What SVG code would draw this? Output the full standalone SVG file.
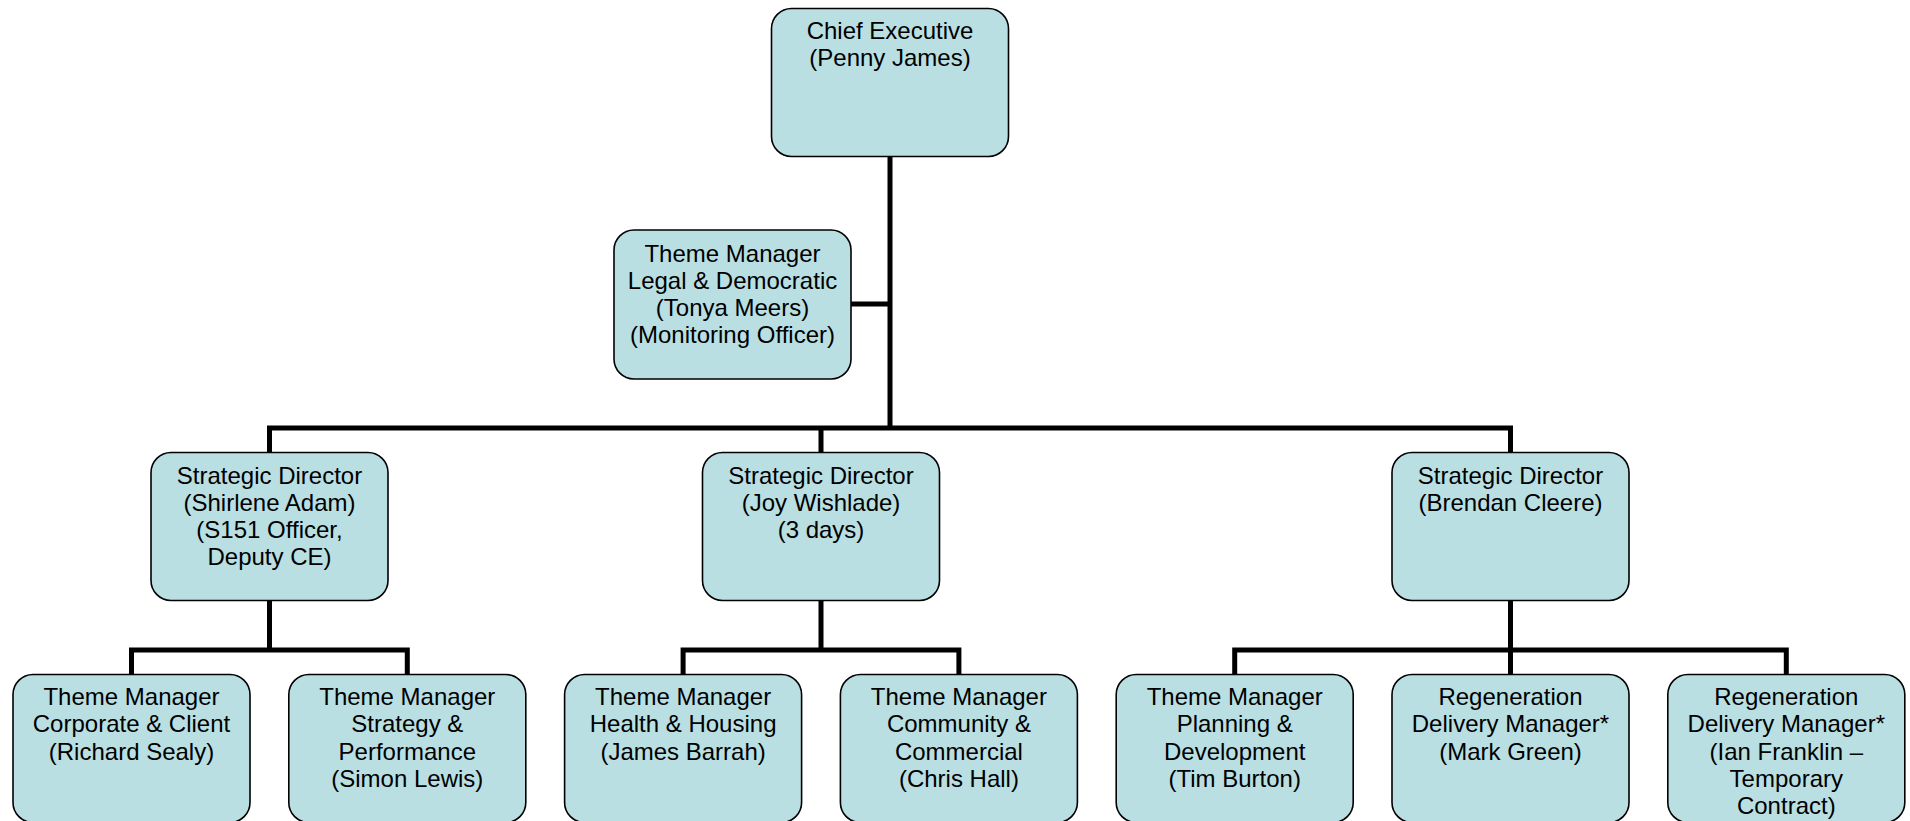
<svg xmlns="http://www.w3.org/2000/svg" width="1910" height="821" viewBox="0 0 1910 821">
<style>
.box{fill:#B9DFE3;stroke:#000;stroke-width:1.6}
.lbl{font-family:"Liberation Sans",Arial,sans-serif;font-size:24px;fill:#000;text-anchor:middle}
.conn{fill:none;stroke:#000;stroke-width:5;stroke-linejoin:miter}
</style>
<rect width="1910" height="821" fill="#fff"/>
<g id="connectors">
<path class="conn" d="M890,156 V428"/>
<path class="conn" d="M851,304 H890"/>
<path class="conn" d="M269.5,452 V428 H1510.5 V452"/>
<path class="conn" d="M821,428 V452"/>
<path class="conn" d="M269.5,600 V650"/>
<path class="conn" d="M131.5,674 V650 H407.3 V674"/>
<path class="conn" d="M821,600 V650"/>
<path class="conn" d="M683.1,674 V650 H958.9 V674"/>
<path class="conn" d="M1510.5,600 V674"/>
<path class="conn" d="M1234.7,674 V650 H1786.3 V674"/>
</g>
<g id="chief-executive">
<rect class="box" x="771.5" y="8.5" width="237" height="148" rx="20"/>
<text class="lbl" x="890" y="39"><tspan x="890">Chief Executive</tspan><tspan x="890" dy="27.3">(Penny James)</tspan></text>
</g>
<g id="legal-democratic">
<rect class="box" x="614" y="230" width="237" height="149" rx="20"/>
<text class="lbl" x="732.5" y="261.5"><tspan x="732.5">Theme Manager</tspan><tspan x="732.5" dy="27.3">Legal &amp; Democratic</tspan><tspan x="732.5" dy="27.3">(Tonya Meers)</tspan><tspan x="732.5" dy="27.3">(Monitoring Officer)</tspan></text>
</g>
<g id="sd-shirlene-adam">
<rect class="box" x="151" y="452.5" width="237" height="148" rx="20"/>
<text class="lbl" x="269.5" y="483.5"><tspan x="269.5">Strategic Director</tspan><tspan x="269.5" dy="27.3">(Shirlene Adam)</tspan><tspan x="269.5" dy="27.3">(S151 Officer,</tspan><tspan x="269.5" dy="27.3">Deputy CE)</tspan></text>
</g>
<g id="sd-joy-wishlade">
<rect class="box" x="702.5" y="452.5" width="237" height="148" rx="20"/>
<text class="lbl" x="821" y="483.5"><tspan x="821">Strategic Director</tspan><tspan x="821" dy="27.3">(Joy Wishlade)</tspan><tspan x="821" dy="27.3">(3 days)</tspan></text>
</g>
<g id="sd-brendan-cleere">
<rect class="box" x="1392" y="452.5" width="237" height="148" rx="20"/>
<text class="lbl" x="1510.5" y="483.5"><tspan x="1510.5">Strategic Director</tspan><tspan x="1510.5" dy="27.3">(Brendan Cleere)</tspan></text>
</g>
<g id="tm-corporate-client">
<rect class="box" x="13" y="674.5" width="237" height="148" rx="20"/>
<text class="lbl" x="131.5" y="705"><tspan x="131.5">Theme Manager</tspan><tspan x="131.5" dy="27.3">Corporate &amp; Client</tspan><tspan x="131.5" dy="27.3">(Richard Sealy)</tspan></text>
</g>
<g id="tm-strategy-performance">
<rect class="box" x="288.8" y="674.5" width="237" height="148" rx="20"/>
<text class="lbl" x="407.3" y="705"><tspan x="407.3">Theme Manager</tspan><tspan x="407.3" dy="27.3">Strategy &amp;</tspan><tspan x="407.3" dy="27.3">Performance</tspan><tspan x="407.3" dy="27.3">(Simon Lewis)</tspan></text>
</g>
<g id="tm-health-housing">
<rect class="box" x="564.6" y="674.5" width="237" height="148" rx="20"/>
<text class="lbl" x="683.1" y="705"><tspan x="683.1">Theme Manager</tspan><tspan x="683.1" dy="27.3">Health &amp; Housing</tspan><tspan x="683.1" dy="27.3">(James Barrah)</tspan></text>
</g>
<g id="tm-community-commercial">
<rect class="box" x="840.4" y="674.5" width="237" height="148" rx="20"/>
<text class="lbl" x="958.9" y="705"><tspan x="958.9">Theme Manager</tspan><tspan x="958.9" dy="27.3">Community &amp;</tspan><tspan x="958.9" dy="27.3">Commercial</tspan><tspan x="958.9" dy="27.3">(Chris Hall)</tspan></text>
</g>
<g id="tm-planning-development">
<rect class="box" x="1116.2" y="674.5" width="237" height="148" rx="20"/>
<text class="lbl" x="1234.7" y="705"><tspan x="1234.7">Theme Manager</tspan><tspan x="1234.7" dy="27.3">Planning &amp;</tspan><tspan x="1234.7" dy="27.3">Development</tspan><tspan x="1234.7" dy="27.3">(Tim Burton)</tspan></text>
</g>
<g id="rdm-mark-green">
<rect class="box" x="1392" y="674.5" width="237" height="148" rx="20"/>
<text class="lbl" x="1510.5" y="705"><tspan x="1510.5">Regeneration</tspan><tspan x="1510.5" dy="27.3">Delivery Manager*</tspan><tspan x="1510.5" dy="27.3">(Mark Green)</tspan></text>
</g>
<g id="rdm-ian-franklin">
<rect class="box" x="1667.8" y="674.5" width="237" height="148" rx="20"/>
<text class="lbl" x="1786.3" y="705"><tspan x="1786.3">Regeneration</tspan><tspan x="1786.3" dy="27.3">Delivery Manager*</tspan><tspan x="1786.3" dy="27.3">(Ian Franklin –</tspan><tspan x="1786.3" dy="27.3">Temporary</tspan><tspan x="1786.3" dy="27.3">Contract)</tspan></text>
</g>
</svg>
